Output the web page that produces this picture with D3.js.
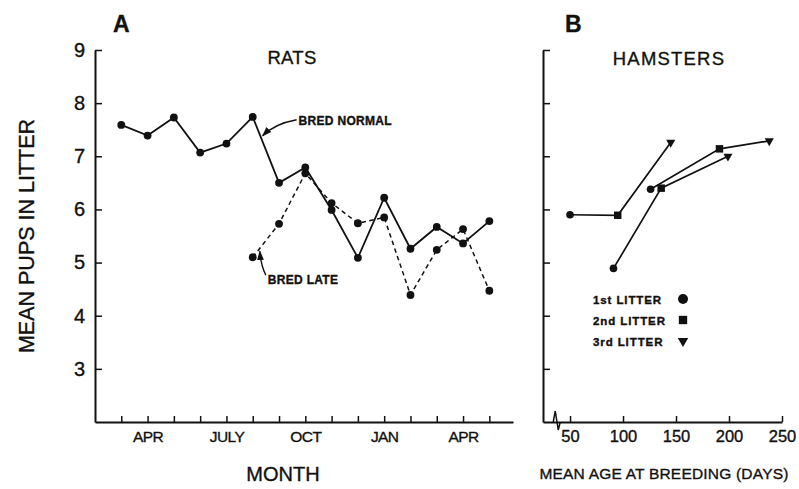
<!DOCTYPE html>
<html>
<head>
<meta charset="utf-8">
<script src="https://d3js.org/d3.v7.min.js"></script>
<style>
  body { margin: 0; background: #fff; }
  svg { display: block; }
  text { font-family: "Liberation Sans", Arial, sans-serif; fill: #111; stroke: #111; stroke-width: 0.35; }
</style>
</head>
<body>
<div id="chart"></div>
<script>
// ---- data ----
var months = ["MAR", "APR", "MAY", "JUNE", "JULY", "AUG", "SEPT", "OCT", "NOV", "DEC", "JAN", "FEB", "MAR", "APR", "MAY"];
var labeledMonths = [1, 4, 7, 10, 13];
var bredNormal = [7.59, 7.39, 7.73, 7.07, 7.24, 7.74, 6.50, 6.79, 5.99, 5.09, 6.22, 5.26, 5.67, 5.36, 5.78];
var bredLate = [5.10, 5.73, 6.68, 6.12, 5.74, 5.85, 4.39, 5.24, 5.63, 4.47];
var bredLateStart = 5; // AUG
var yTicks = [3, 4, 5, 6, 7, 8, 9];

var litterLabels = ["1st LITTER", "2nd LITTER", "3rd LITTER"];
var hamsterAges = [[50, 95, 145], [91, 136, 199], [126, 191, 238]];
var hamsterPups = [[5.90, 5.89, 7.26], [4.89, 6.40, 7.00], [6.38, 7.14, 7.29]];
var ageTicks = [50, 100, 150, 200, 250];

var W = 799, H = 489;
var svg = d3.select("#chart").append("svg").attr("width", W).attr("height", H);

var y = d3.scaleLinear().domain([2, 9]).range([422, 50]);
var xA = d3.scaleLinear().domain([-1, 14.9]).range([95, 513]);
var xB = d3.scaleLinear().domain([24.5, 250]).range([543, 782]);

function styleAxis(g) {
  g.select(".domain").attr("stroke", "#111").attr("stroke-width", 2);
  g.selectAll(".tick line").attr("stroke", "#111").attr("stroke-width", 1.5);
  g.selectAll(".tick text").attr("fill", "#111").attr("font-family", "Liberation Sans, Arial, sans-serif");
}

// ---- panel A axes ----
svg.append("g")
  .attr("transform", "translate(95,0)")
  .call(d3.axisLeft(y).tickValues(yTicks).tickSize(-7).tickSizeOuter(0).tickPadding(10).tickFormat(d3.format("d")))
  .call(styleAxis)
  .call(function (g) { g.selectAll(".tick text").attr("font-size", 20); });

svg.append("g")
  .attr("transform", "translate(0,422)")
  .call(d3.axisBottom(xA).tickValues(d3.range(0, months.length)).tickSize(-6).tickSizeOuter(0).tickPadding(9)
    .tickFormat(function (i) { return labeledMonths.indexOf(i) >= 0 ? months[i] : ""; }))
  .call(styleAxis)
  .call(function (g) { g.selectAll(".tick text").attr("font-size", 15.5).attr("letter-spacing", -0.6); });

// ---- panel A lines ----
var lineA = d3.line().x(function (d) { return xA(d[0]); }).y(function (d) { return y(d[1]); });
var normalPts = bredNormal.map(function (v, i) { return [i, v]; });
var latePts = bredLate.map(function (v, i) { return [i + bredLateStart, v]; });

svg.append("path").datum(latePts).attr("d", lineA)
  .attr("fill", "none").attr("stroke", "#111").attr("stroke-width", 1.5).attr("stroke-dasharray", "4.5,3.5");
svg.append("path").datum(normalPts).attr("d", lineA)
  .attr("fill", "none").attr("stroke", "#111").attr("stroke-width", 1.8);

svg.selectAll(".ptA").data(normalPts.concat(latePts)).enter().append("circle")
  .attr("class", "ptA")
  .attr("cx", function (d) { return xA(d[0]); })
  .attr("cy", function (d) { return y(d[1]); })
  .attr("r", 3.9).attr("fill", "#111");

// arrows for annotations
svg.append("defs").append("marker")
  .attr("id", "arr").attr("viewBox", "0 0 10 10").attr("refX", 9).attr("refY", 5)
  .attr("markerWidth", 7).attr("markerHeight", 7).attr("orient", "auto")
  .append("path").attr("d", "M0,1.5 L10,5 L0,8.5 Z").attr("fill", "#111");

function along(pts, i, t) {
  var a = pts[i], b = pts[i + 1];
  return [xA(a[0] + (b[0] - a[0]) * t), y(a[1] + (b[1] - a[1]) * t)];
}
var tipN = along(normalPts, 5, 0.3);
svg.append("path")
  .attr("d", "M" + (tipN[0] + 36) + "," + (tipN[1] - 17) + " Q" + (tipN[0] + 14) + "," + (tipN[1] - 13) + " " + (tipN[0] + 2) + "," + (tipN[1] - 1))
  .attr("fill", "none").attr("stroke", "#111").attr("stroke-width", 1.4).attr("marker-end", "url(#arr)");
svg.append("text").attr("x", tipN[0] + 38).attr("y", tipN[1] - 12)
  .attr("font-size", 12).attr("font-weight", "bold").attr("stroke-width", 0).attr("letter-spacing", 0.3).text("BRED NORMAL");

var tipL = along(latePts, 0, 0.27);
svg.append("path")
  .attr("d", "M" + (tipL[0] + 6) + "," + (tipL[1] + 27) + " Q" + (tipL[0] + 1) + "," + (tipL[1] + 17) + " " + (tipL[0]) + "," + (tipL[1] + 3))
  .attr("fill", "none").attr("stroke", "#111").attr("stroke-width", 1.4).attr("marker-end", "url(#arr)");
svg.append("text").attr("x", tipL[0] + 8).attr("y", tipL[1] + 36)
  .attr("font-size", 12).attr("font-weight", "bold").attr("stroke-width", 0).attr("letter-spacing", 0.3).text("BRED LATE");

// ---- panel B axes ----
svg.append("g")
  .attr("transform", "translate(543,0)")
  .call(d3.axisLeft(y).tickValues(yTicks).tickSize(-7).tickSizeOuter(0).tickFormat(""))
  .call(styleAxis);

svg.append("g")
  .attr("transform", "translate(0,422)")
  .call(d3.axisBottom(xB).tickValues(ageTicks).tickSize(-6).tickSizeOuter(0).tickPadding(8).tickFormat(d3.format("d")))
  .call(styleAxis)
  .call(function (g) { g.selectAll(".tick text").attr("font-size", 16.5); });

// axis break squiggle
var bx = xB(37);
svg.append("path")
  .attr("d", "M" + (bx - 3) + ",422 L" + (bx - 1) + ",411 L" + (bx + 2) + ",430 L" + (bx + 4) + ",422")
  .attr("fill", "none").attr("stroke", "#111").attr("stroke-width", 1.5);

// ---- panel B lines and markers ----
var groups = hamsterAges.map(function (ages, g) {
  return ages.map(function (a, k) { return { age: a, pups: hamsterPups[g][k], litter: k }; });
});
var lineB = d3.line().x(function (d) { return xB(d.age); }).y(function (d) { return y(d.pups); });
svg.selectAll(".lineB").data(groups).enter().append("path")
  .attr("class", "lineB").attr("d", lineB)
  .attr("fill", "none").attr("stroke", "#111").attr("stroke-width", 1.7);

var symbols = [d3.symbolCircle, d3.symbolSquare, d3.symbolTriangle];
var symSize = [46, 56, 36];
function marker(litter, size) {
  return d3.symbol().type(symbols[litter]).size(size || symSize[litter])();
}
svg.selectAll(".ptB").data(d3.merge(groups)).enter().append("path")
  .attr("class", "ptB")
  .attr("d", function (d) { return marker(d.litter); })
  .attr("transform", function (d) {
    return "translate(" + xB(d.age) + "," + y(d.pups) + ")" + (d.litter === 2 ? " rotate(180)" : "");
  })
  .attr("fill", "#111");

// legend
var leg = svg.append("g").attr("transform", "translate(593,299)");
litterLabels.forEach(function (lab, k) {
  leg.append("text").attr("x", 0).attr("y", k * 21 + 4.5)
    .attr("font-size", 11.5).attr("font-weight", "bold").attr("stroke-width", 0).attr("letter-spacing", 0.9).text(lab);
  leg.append("path").attr("d", marker(k, [78, 70, 48][k]))
    .attr("transform", "translate(90," + (k * 21) + ")" + (k === 2 ? " rotate(180)" : ""))
    .attr("fill", "#111");
});

// ---- titles and labels ----
svg.append("text").attr("x", 113).attr("y", 32).attr("font-size", 23).attr("font-weight", "bold").attr("stroke-width", 0).text("A");
svg.append("text").attr("x", 565).attr("y", 32).attr("font-size", 23).attr("font-weight", "bold").attr("stroke-width", 0).text("B");
svg.append("text").attr("x", 292).attr("y", 64).attr("text-anchor", "middle").attr("font-size", 18.5).attr("letter-spacing", 0.3).text("RATS");
svg.append("text").attr("x", 669).attr("y", 65).attr("text-anchor", "middle").attr("font-size", 18.5).attr("letter-spacing", 1.2).text("HAMSTERS");
svg.append("text").attr("transform", "translate(34,236) rotate(-90)").attr("text-anchor", "middle")
  .attr("font-size", 21.5).text("MEAN PUPS IN LITTER");
svg.append("text").attr("x", 283).attr("y", 481).attr("text-anchor", "middle").attr("font-size", 20).text("MONTH");
svg.append("text").attr("x", 664).attr("y", 479).attr("text-anchor", "middle").attr("font-size", 15.5).attr("letter-spacing", 0.2).text("MEAN AGE AT BREEDING (DAYS)");
</script>
</body>
</html>
